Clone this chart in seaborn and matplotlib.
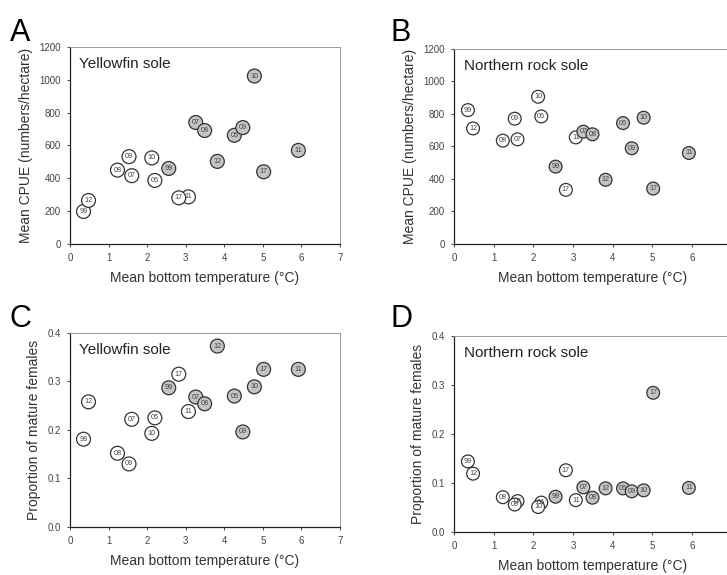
import matplotlib
matplotlib.use("Agg")
import matplotlib.pyplot as plt
import seaborn as sns
import pandas as pd

years = ['99', '06', '07', '08', '09', '10', '11', '12', '17']

# Mean bottom temperature (deg C): cold group (open circles) and warm group (gray circles)
temp_cold = [0.35, 2.20, 1.60, 1.23, 1.53, 2.12, 3.07, 0.48, 2.82]
temp_warm = [2.56, 4.26, 3.26, 3.49, 4.48, 4.78, 5.92, 3.82, 5.02]

# Panel A: yellowfin sole CPUE
yfs_cpue_cold = [198, 387, 416, 450, 532, 524, 287, 265, 281]
yfs_cpue_warm = [460, 662, 740, 691, 709, 1023, 570, 503, 440]
# Panel B: northern rock sole CPUE
nrs_cpue_cold = [824, 785, 644, 636, 771, 906, 656, 711, 333]
nrs_cpue_warm = [476, 744, 691, 675, 589, 777, 560, 395, 341]
# Panel C: yellowfin sole proportion mature females
yfs_mat_cold = [0.181, 0.225, 0.222, 0.152, 0.130, 0.193, 0.238, 0.258, 0.315]
yfs_mat_warm = [0.287, 0.270, 0.268, 0.254, 0.196, 0.289, 0.325, 0.373, 0.325]
# Panel D: northern rock sole proportion mature females
nrs_mat_cold = [0.144, 0.060, 0.063, 0.071, 0.056, 0.051, 0.065, 0.119, 0.126]
nrs_mat_warm = [0.072, 0.089, 0.091, 0.070, 0.083, 0.085, 0.090, 0.089, 0.284]

xticks_left = [0, 1, 2, 3, 4, 5, 6, 7]
xticks_right = [0, 1, 2, 3, 4, 5, 6]

xlabel = 'Mean bottom temperature (\u00b0C)'
ylabel_cpue = 'Mean CPUE (numbers/hectare)'
ylabel_mat = 'Proportion of mature females'

sns.set_style('white')
plt.rcParams['font.family'] = ['Liberation Sans', 'DejaVu Sans']

fig = plt.figure(figsize=(7.27, 5.75), dpi=100)

def make_df(cold, warm):
    return pd.DataFrame({
        'temp': temp_cold + temp_warm,
        'val': cold + warm,
        'year': years + years,
        'group': ['cold'] * len(years) + ['warm'] * len(years),
    })

panels = [
    ('A', [0.0963, 0.5757, 0.3714, 0.3426], yfs_cpue_cold, yfs_cpue_warm, 'Yellowfin sole', ylabel_cpue,
     (0, 1200), [0, 200, 400, 600, 800, 1000, 1200], '%d', 100, (0.013, 0.908), xticks_left),
    ('B', [0.6245, 0.5757, 0.3820, 0.3391], nrs_cpue_cold, nrs_cpue_warm, 'Northern rock sole', ylabel_cpue,
     (0, 1200), [0, 200, 400, 600, 800, 1000, 1200], '%d', 85, (0.537, 0.908), xticks_right),
    ('C', [0.0963, 0.0835, 0.3714, 0.3374], yfs_mat_cold, yfs_mat_warm, 'Yellowfin sole', ylabel_mat,
     (0, 0.4), [0.0, 0.1, 0.2, 0.3, 0.4], '%.1f', 100, (0.013, 0.412), xticks_left),
    ('D', [0.6245, 0.0748, 0.3820, 0.3409], nrs_mat_cold, nrs_mat_warm, 'Northern rock sole', ylabel_mat,
     (0, 0.4), [0.0, 0.1, 0.2, 0.3, 0.4], '%.1f', 85, (0.537, 0.412), xticks_right),
]

for letter, pos, cold, warm, title, ylab, ylim, yticks, yfmt, msize, lpos, xt in panels:
    ax = fig.add_axes(pos)
    df = make_df(cold, warm)
    sns.scatterplot(data=df, x='temp', y='val', hue='group',
                    palette={'cold': 'white', 'warm': '#c4c4c4'},
                    s=msize, edgecolor='#333333', linewidth=0.9,
                    legend=False, ax=ax, zorder=3)
    for _, r in df.iterrows():
        ax.text(r['temp'], r['val'], r['year'], ha='center', va='center',
                fontsize=5.2, color='#444444', zorder=4)
    ax.set_xlim(0, 7)
    ax.set_ylim(*ylim)
    ax.set_xticks(xt)
    ax.set_yticks(yticks)
    ax.set_yticklabels([yfmt % v for v in yticks])
    ax.tick_params(axis='both', which='both', direction='out', length=2.5, width=0.7,
                   labelsize=7, colors='#444444', pad=4, bottom=True, left=True)
    ax.set_xlabel(xlabel, fontsize=10, color='#333333', labelpad=6)
    ax.set_ylabel(ylab, fontsize=10, color='#333333', labelpad=5)
    for side in ['left', 'bottom']:
        ax.spines[side].set_color('#222222')
        ax.spines[side].set_linewidth(0.9)
    for side in ['top', 'right']:
        ax.spines[side].set_color('#999999')
        ax.spines[side].set_linewidth(0.7)
    ax.text(0.035, 0.95, title, transform=ax.transAxes, ha='left', va='top',
            fontsize=11, color='#222222')
    fig.text(lpos[0], lpos[1] + 0.06, letter, fontsize=22, color='black',
             ha='left', va='top')

fig.savefig('out.png', dpi=100, facecolor='white')
